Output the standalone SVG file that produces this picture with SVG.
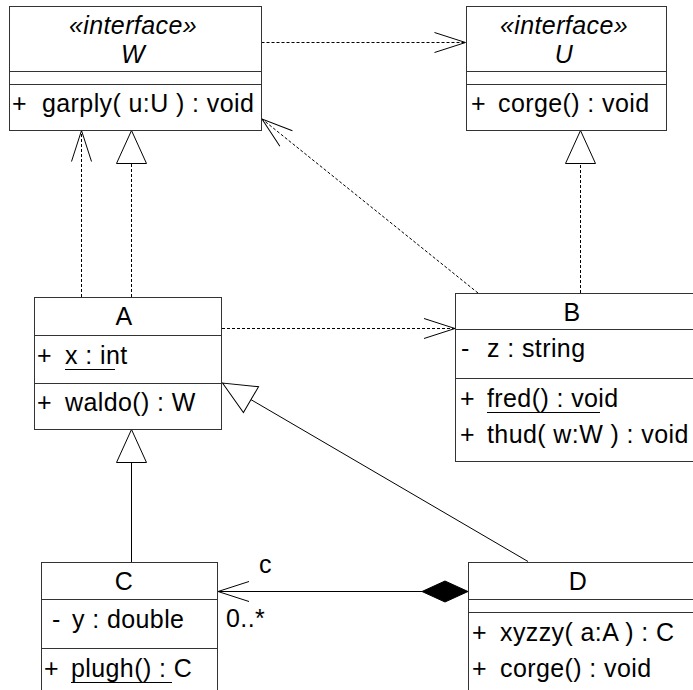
<svg xmlns="http://www.w3.org/2000/svg" width="693" height="690" viewBox="0 0 693 690">
<style>
.box{fill:#fff;stroke:#333;stroke-width:1}
.sep{stroke:#333;stroke-width:1}
.t{font-family:"Liberation Sans",Arial,sans-serif;font-size:25px;letter-spacing:0.4px;fill:#000}
.i{font-style:italic}
.m{text-anchor:middle}
.dash{fill:none;stroke:#000;stroke-width:1;stroke-dasharray:3,2}
.solid{fill:none;stroke:#000;stroke-width:1}
.ul{stroke:#000;stroke-width:1}
.hollow{fill:#fff;stroke:#000;stroke-width:1}
</style>
<defs>
<marker id="open" markerUnits="userSpaceOnUse" orient="auto" markerWidth="40" markerHeight="30" refX="0" refY="0" viewBox="-35 -15 40 30" overflow="visible">
<path d="M-31,-10 L0,0 L-31,10" fill="none" stroke="#000" stroke-width="1"/>
</marker>
<marker id="tri" markerUnits="userSpaceOnUse" orient="auto" markerWidth="40" markerHeight="36" refX="0" refY="0" viewBox="-36 -18 40 36" overflow="visible">
<path d="M0,0 L-33,-15 L-33,15 Z" fill="#fff" stroke="#000" stroke-width="1"/>
</marker>
</defs>

<g id="connectors">
<line class="dash" x1="261.5" y1="42.5" x2="465.5" y2="42.5" marker-end="url(#open)"/>
<line class="dash" x1="81.5" y1="297" x2="81.5" y2="130.5" marker-end="url(#open)"/>
<line class="dash" x1="131.5" y1="297" x2="131.5" y2="163"/>
<path class="hollow" d="M131.5,130.5 L116.5,163.5 L146.5,163.5 Z"/>
<line class="dash" x1="478" y1="293" x2="262" y2="119" marker-end="url(#open)"/>
<line class="dash" x1="580.5" y1="293" x2="580.5" y2="163"/>
<path class="hollow" d="M580.5,130.5 L565.5,163.5 L595.5,163.5 Z"/>
<line class="dash" x1="222" y1="328.5" x2="455" y2="328.5" marker-end="url(#open)"/>
<line class="solid" x1="131.5" y1="562" x2="131.5" y2="462"/>
<path class="hollow" d="M131.5,429.5 L116.5,462.5 L146.5,462.5 Z"/>
<line class="solid" x1="528" y1="561.5" x2="222.5" y2="383" marker-end="url(#tri)"/>
<line class="solid" x1="422" y1="591.5" x2="218" y2="591.5" marker-end="url(#open)"/>
<path d="M468,591.5 L445,581 L422,591.5 L445,602 Z" fill="#000" stroke="#000" stroke-width="1"/>
<text class="t" x="259" y="573">c</text>
<text class="t" x="226" y="627">0..*</text>
</g>

<g id="W">
<rect class="box" x="9.5" y="6.5" width="252" height="124"/>
<line class="sep" x1="9.5" y1="71.5" x2="261.5" y2="71.5"/>
<line class="sep" x1="9.5" y1="84.5" x2="261.5" y2="84.5"/>
<text class="t i m" x="133" y="34">«interface»</text>
<text class="t i m" x="133" y="63">W</text>
<text class="t" x="12" y="112">+</text>
<text class="t" x="42" y="112">garply( u:U ) : void</text>
</g>

<g id="U">
<rect class="box" x="466.5" y="6.5" width="200" height="124"/>
<line class="sep" x1="466.5" y1="71.5" x2="666.5" y2="71.5"/>
<line class="sep" x1="466.5" y1="84.5" x2="666.5" y2="84.5"/>
<text class="t i m" x="564" y="34">«interface»</text>
<text class="t i m" x="564" y="63">U</text>
<text class="t" x="471" y="112">+</text>
<text class="t" x="498" y="112">corge() : void</text>
</g>

<g id="A">
<rect class="box" x="34.5" y="297.5" width="187" height="132"/>
<line class="sep" x1="34.5" y1="335.5" x2="221.5" y2="335.5"/>
<line class="sep" x1="34.5" y1="383.5" x2="221.5" y2="383.5"/>
<text class="t m" x="124" y="325">A</text>
<text class="t" x="37" y="364">+</text>
<text class="t" x="65" y="364">x : int</text>
<line class="ul" x1="65" y1="369.5" x2="115" y2="369.5"/>
<text class="t" x="37" y="411">+</text>
<text class="t" x="65" y="411">waldo() : W</text>
</g>

<g id="B">
<rect class="box" x="455.5" y="293.5" width="250" height="168"/>
<line class="sep" x1="455.5" y1="329.5" x2="705" y2="329.5"/>
<line class="sep" x1="455.5" y1="378.5" x2="705" y2="378.5"/>
<text class="t m" x="572" y="321">B</text>
<text class="t" x="461" y="357">-</text>
<text class="t" x="487" y="357">z : string</text>
<text class="t" x="460" y="407">+</text>
<text class="t" x="487" y="407">fred() : void</text>
<line class="ul" x1="487" y1="412.5" x2="600" y2="412.5"/>
<text class="t" x="460" y="443">+</text>
<text class="t" x="487" y="443">thud( w:W ) : void</text>
</g>

<g id="C">
<rect class="box" x="41.5" y="562.5" width="176" height="140"/>
<line class="sep" x1="41.5" y1="599.5" x2="217.5" y2="599.5"/>
<line class="sep" x1="41.5" y1="648.5" x2="217.5" y2="648.5"/>
<text class="t m" x="124" y="590">C</text>
<text class="t" x="52" y="628">-</text>
<text class="t" x="72" y="628">y : double</text>
<text class="t" x="44" y="677">+</text>
<text class="t" x="71" y="677">plugh() : C</text>
<line class="ul" x1="71" y1="682.5" x2="172" y2="682.5"/>
</g>

<g id="D">
<rect class="box" x="468.5" y="562.5" width="240" height="140"/>
<line class="sep" x1="468.5" y1="599.5" x2="708" y2="599.5"/>
<line class="sep" x1="468.5" y1="612.5" x2="708" y2="612.5"/>
<text class="t m" x="578" y="590">D</text>
<text class="t" x="472" y="641">+</text>
<text class="t" x="500" y="641">xyzzy( a:A ) : C</text>
<text class="t" x="472" y="677">+</text>
<text class="t" x="500" y="677">corge() : void</text>
</g>
</svg>
